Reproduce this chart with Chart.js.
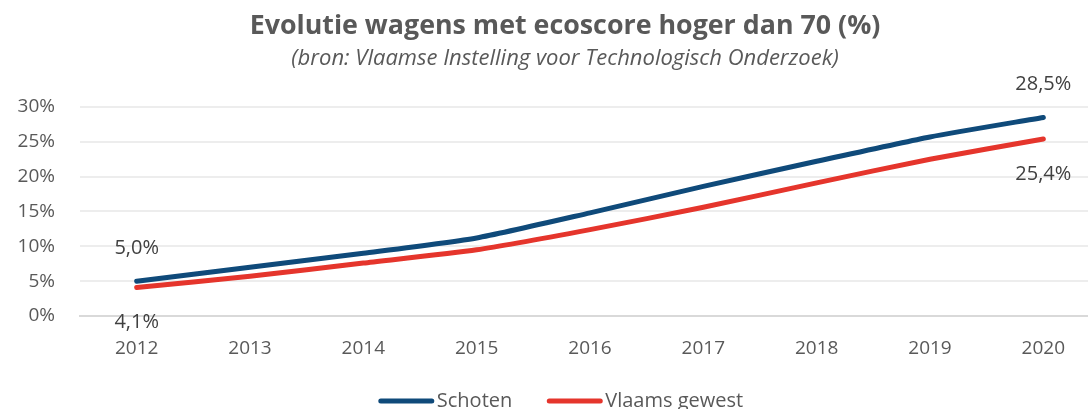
<!DOCTYPE html>
<html><head><meta charset="utf-8">
<script src="https://cdn.jsdelivr.net/npm/chart.js@4/dist/chart.umd.min.js"></script>
<style>
html,body{margin:0;padding:0;background:#fff;overflow:hidden;width:1088px;height:409px;}
#wrap{position:relative;width:1130px;height:420px;}
</style></head><body>
<div id="wrap"><canvas id="c" width="1130" height="420"></canvas></div>
<script>
const years = ['2012','2013','2014','2015','2016','2017','2018','2019','2020'];
const schoten = [5.0, 7.0, 9.0, 11.2, 14.8, 18.6, 22.2, 25.7, 28.5];
const vlaamsGewest = [4.1, 5.7, 7.6, 9.5, 12.4, 15.6, 19.1, 22.5, 25.4];
const yTicks = [0, 5, 10, 15, 20, 25, 30];
const seriesNames = ['Schoten', 'Vlaams gewest'];
const titleText = 'Evolutie wagens met ecoscore hoger dan 70 (%)';
const subtitleText = '(bron: Vlaamse Instelling voor Technologisch Onderzoek)';

const FONT = '"Open Sans", "Liberation Sans", sans-serif';
const fmt = v => v.toFixed(1).replace('.', ',') + '%';

const endLabels = {
  id: 'endLabels',
  afterDatasetsDraw(chart) {
    const ctx = chart.ctx;
    ctx.save();
    ctx.font = '20px ' + FONT;
    ctx.fillStyle = '#404040';
    ctx.textAlign = 'center';
    ctx.textBaseline = 'middle';
    chart.data.datasets.forEach((ds, di) => {
      const meta = chart.getDatasetMeta(di);
      const off = ds.labelPos === 'above' ? -33 : 35;
      [0, ds.data.length - 1].forEach(i => {
        const p = meta.data[i];
        ctx.fillText(fmt(ds.data[i]), p.x, p.y + off);
      });
    });
    ctx.restore();
  }
};

// shift the centred title block a bit right, as in the original (wider) picture
const titleShift = {
  id: 'titleShift',
  afterLayout(chart) {
    chart.boxes.forEach(b => {
      if (b.position === 'top' && b.options && 'text' in b.options) { b.left += 30; }
    });
  }
};

const customLegend = {
  id: 'customLegend',
  afterDraw(chart) {
    const ctx = chart.ctx;
    ctx.save();
    ctx.font = '20px ' + FONT;
    ctx.textBaseline = 'middle';
    ctx.textAlign = 'left';
    const lineW = 55, gapText = 3, gapItem = 35, y = 401;
    const items = chart.data.datasets.map(ds => ({ label: ds.label, color: ds.borderColor, w: lineW + gapText + ctx.measureText(ds.label).width }));
    const total = items.reduce((a, it) => a + it.w, 0) + gapItem * (items.length - 1);
    let x = 561 - total / 2;
    items.forEach(it => {
      ctx.strokeStyle = it.color;
      ctx.lineWidth = 5;
      ctx.lineCap = 'round';
      ctx.beginPath();
      ctx.moveTo(x + 2, y);
      ctx.lineTo(x + lineW - 2, y);
      ctx.stroke();
      ctx.fillStyle = '#595959';
      ctx.fillText(it.label, x + lineW + gapText, y);
      x += it.w + gapItem;
    });
    ctx.restore();
  }
};

new Chart(document.getElementById('c'), {
  type: 'line',
  data: {
    labels: years,
    datasets: [
      { label: seriesNames[0], data: schoten, borderColor: '#0f4a7a', backgroundColor: '#0f4a7a',
        borderWidth: 5, pointRadius: 0, tension: 0.2, borderCapStyle: 'round', labelPos: 'above' },
      { label: seriesNames[1], data: vlaamsGewest, borderColor: '#e5352c', backgroundColor: '#e5352c',
        borderWidth: 5, pointRadius: 0, tension: 0.2, borderCapStyle: 'round', labelPos: 'below' }
    ]
  },
  options: {
    responsive: false,
    animation: false,
    layout: { padding: { left: 0, right: 30, top: 0, bottom: 44 } },
    plugins: {
      title: { display: true, text: titleText, color: '#595959',
        font: { family: FONT, size: 26.8, weight: 'bold', lineHeight: 1.2 }, padding: { top: 10, bottom: 0 } },
      subtitle: { display: true, text: subtitleText, color: '#595959',
        font: { family: FONT, size: 22, style: 'italic', lineHeight: 1.2 }, padding: { top: 3, bottom: 35.4 } },
      legend: { display: false },
      tooltip: { enabled: false }
    },
    scales: {
      x: {
        offset: true,
        grid: { display: false, drawTicks: false },
        border: { display: true, color: '#d9d9d9', width: 2 },
        ticks: { color: '#595959', font: { family: FONT, size: 19 }, padding: 21, maxRotation: 0 },
        afterFit(s) { s.height = 60; }
      },
      y: {
        min: 0, max: 30,
        afterBuildTicks(s) { s.ticks = yTicks.map(v => ({ value: v })); },
        grid: { color: '#ededed', lineWidth: 2, drawTicks: false },
        border: { display: false },
        ticks: { color: '#595959', font: { family: FONT, size: 19 }, padding: 25, callback: v => v + '%' },
        afterFit(s) { s.width = 80; }
      }
    }
  },
  plugins: [endLabels, titleShift, customLegend]
});
</script>
</body></html>
